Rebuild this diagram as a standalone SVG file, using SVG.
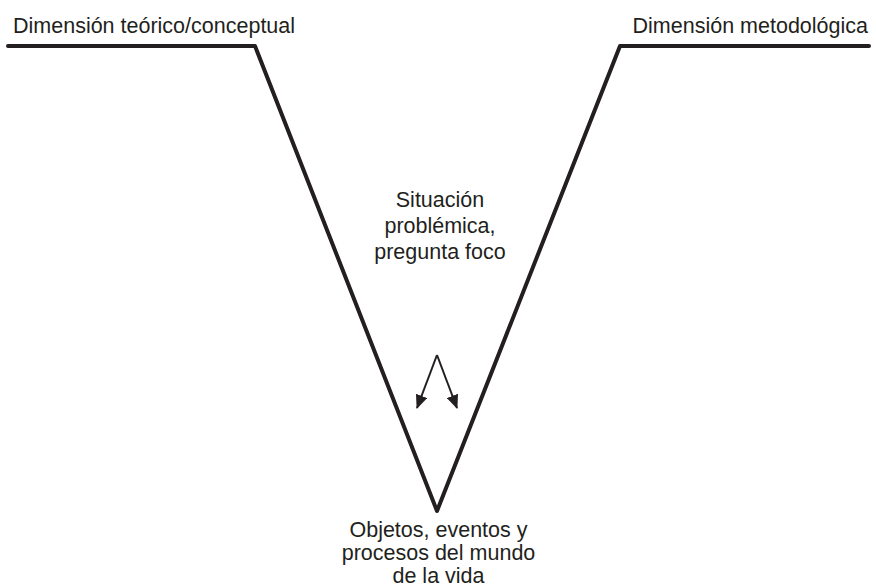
<svg xmlns="http://www.w3.org/2000/svg" width="876" height="587" viewBox="0 0 876 587">
<style>
text{font-family:"Liberation Sans",Arial,sans-serif;font-size:21.5px;fill:#231f20}
.v{fill:none;stroke:#231f20;stroke-width:4;stroke-linecap:round;stroke-linejoin:round}
.a{fill:none;stroke:#231f20;stroke-width:2}
</style>
<defs>
<marker id="ah" viewBox="0 0 14 12" refX="13" refY="6" markerWidth="14" markerHeight="12" markerUnits="userSpaceOnUse" orient="auto">
<path d="M0,0 L14,6 L0,12 Z" fill="#231f20"/>
</marker>
</defs>
<g id="frame">
<path class="v" d="M8,46 L255,46 L437,511 L620,46 L869,46"/>
</g>
<g id="label-teorico"><text x="13" y="33">Dimensión teórico/conceptual</text></g>
<g id="label-metodologica"><text x="868" y="33" text-anchor="end">Dimensión metodológica</text></g>
<g id="label-situacion" text-anchor="middle">
<text x="440" y="207">Situación</text>
<text x="440" y="233">problémica,</text>
<text x="440" y="259">pregunta foco</text>
</g>
<g id="label-objetos" text-anchor="middle">
<text x="438.5" y="537">Objetos, eventos y</text>
<text x="438.5" y="560">procesos del mundo</text>
<text x="438.5" y="583">de la vida</text>
</g>
<g id="connectors">
<path class="a" d="M437,355 L417,408" marker-end="url(#ah)"/>
<path class="a" d="M437,355 L457,408" marker-end="url(#ah)"/>
</g>
</svg>
